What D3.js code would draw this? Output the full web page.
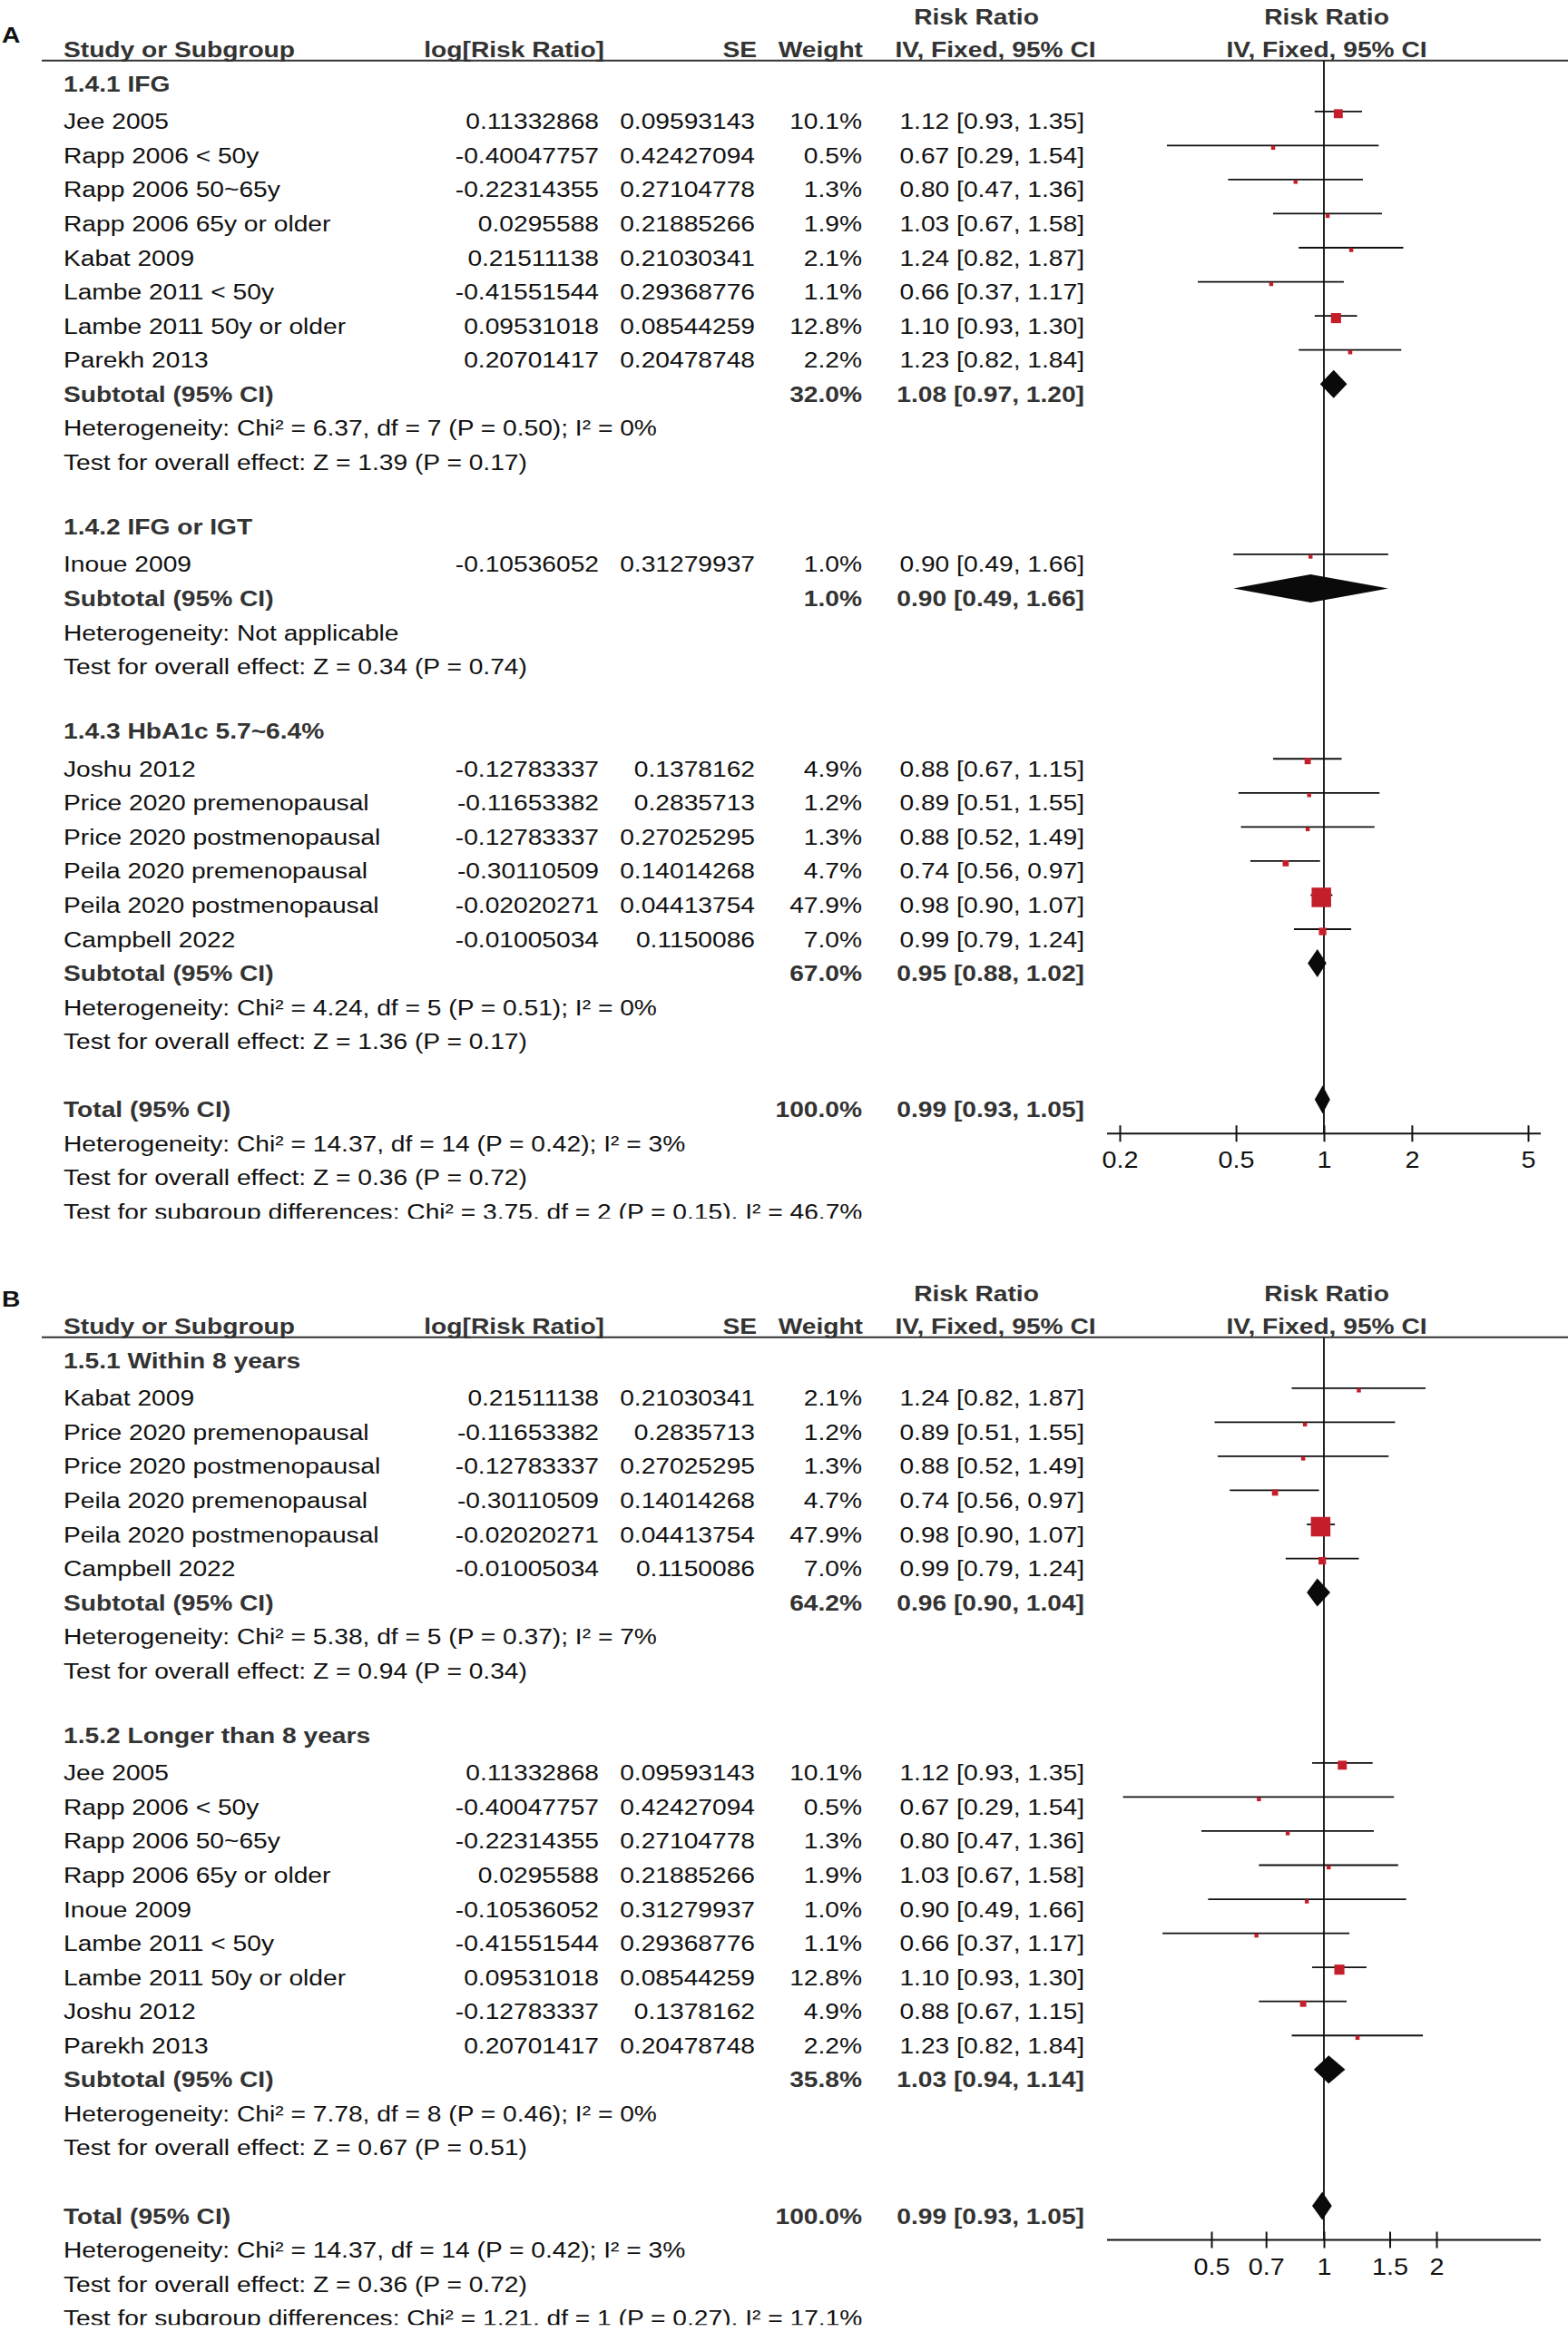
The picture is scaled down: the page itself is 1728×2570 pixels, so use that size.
<!DOCTYPE html>
<html>
<head>
<meta charset="utf-8">
<script src="https://cdn.jsdelivr.net/npm/d3@7"></script>
<style>
    body { margin: 0; background: #fff; }
    svg { display: block; font-family: "Liberation Sans", Arial, sans-serif; }
</style>
</head>
<body>
<div id="chart"></div>
<script>
// Study level values (the same 15 studies are used in both panels)
var studyNames = ["Jee 2005", "Rapp 2006 < 50y", "Rapp 2006 50~65y", "Rapp 2006 65y or older",
    "Kabat 2009", "Lambe 2011 < 50y", "Lambe 2011 50y or older", "Parekh 2013", "Inoue 2009",
    "Joshu 2012", "Price 2020 premenopausal", "Price 2020 postmenopausal",
    "Peila 2020 premenopausal", "Peila 2020 postmenopausal", "Campbell 2022"];
var logRR = ["0.11332868", "-0.40047757", "-0.22314355", "0.0295588", "0.21511138", "-0.41551544",
    "0.09531018", "0.20701417", "-0.10536052", "-0.12783337", "-0.11653382", "-0.12783337",
    "-0.30110509", "-0.02020271", "-0.01005034"];
var seVals = ["0.09593143", "0.42427094", "0.27104778", "0.21885266", "0.21030341", "0.29368776",
    "0.08544259", "0.20478748", "0.31279937", "0.1378162", "0.2835713", "0.27025295",
    "0.14014268", "0.04413754", "0.1150086"];
var weights = [10.1, 0.5, 1.3, 1.9, 2.1, 1.1, 12.8, 2.2, 1.0, 4.9, 1.2, 1.3, 4.7, 47.9, 7.0];
var rrVals = [1.12, 0.67, 0.80, 1.03, 1.24, 0.66, 1.10, 1.23, 0.90, 0.88, 0.89, 0.88, 0.74, 0.98, 0.99];
var ciLow  = [0.93, 0.29, 0.47, 0.67, 0.82, 0.37, 0.93, 0.82, 0.49, 0.67, 0.51, 0.52, 0.56, 0.90, 0.79];
var ciHigh = [1.35, 1.54, 1.36, 1.58, 1.87, 1.17, 1.30, 1.84, 1.66, 1.15, 1.55, 1.49, 0.97, 1.07, 1.24];

// Panel A subgroups
var groupTitlesA = ["1.4.1 IFG", "1.4.2 IFG or IGT", "1.4.3 HbA1c 5.7~6.4%"];
var groupStudiesA = [[0, 1, 2, 3, 4, 5, 6, 7], [8], [9, 10, 11, 12, 13, 14]];
var subWeightA = [32.0, 1.0, 67.0];
var subRRA = [1.08, 0.90, 0.95];
var subLowA = [0.97, 0.49, 0.88];
var subHighA = [1.20, 1.66, 1.02];
var hetA = ["Heterogeneity: Chi² = 6.37, df = 7 (P = 0.50); I² = 0%",
    "Heterogeneity: Not applicable",
    "Heterogeneity: Chi² = 4.24, df = 5 (P = 0.51); I² = 0%"];
var effectA = ["Test for overall effect: Z = 1.39 (P = 0.17)",
    "Test for overall effect: Z = 0.34 (P = 0.74)",
    "Test for overall effect: Z = 1.36 (P = 0.17)"];
var diffA = "Test for subgroup differences: Chi² = 3.75, df = 2 (P = 0.15), I² = 46.7%";
var ticksA = [0.2, 0.5, 1, 2, 5];

// Panel B subgroups
var groupTitlesB = ["1.5.1 Within 8 years", "1.5.2 Longer than 8 years"];
var groupStudiesB = [[4, 10, 11, 12, 13, 14], [0, 1, 2, 3, 8, 5, 6, 9, 7]];
var subWeightB = [64.2, 35.8];
var subRRB = [0.96, 1.03];
var subLowB = [0.90, 0.94];
var subHighB = [1.04, 1.14];
var hetB = ["Heterogeneity: Chi² = 5.38, df = 5 (P = 0.37); I² = 7%",
    "Heterogeneity: Chi² = 7.78, df = 8 (P = 0.46); I² = 0%"];
var effectB = ["Test for overall effect: Z = 0.94 (P = 0.34)",
    "Test for overall effect: Z = 0.67 (P = 0.51)"];
var diffB = "Test for subgroup differences: Chi² = 1.21, df = 1 (P = 0.27), I² = 17.1%";
var ticksB = [0.5, 0.7, 1, 1.5, 2];

// Overall
var totalWeight = 100.0;
var totalRR = 0.99, totalLow = 0.93, totalHigh = 1.05;
var totalHet = "Heterogeneity: Chi² = 14.37, df = 14 (P = 0.42); I² = 3%";
var totalEffect = "Test for overall effect: Z = 0.36 (P = 0.72)";

var svgWidth = 1728;
var svgHeight = 2570;
var sx = 1.15;        // the picture is stretched a bit horizontally
var fontSize = 24.5;
var rowStep = 37.55;
var col = { label: 70, logRR: 660, se: 832, weight: 950, ci: 1195 };

var svg = d3.select("#chart")
    .append("svg")
    .attr("width", svgWidth)
    .attr("height", svgHeight);

svg.append("rect").attr("width", svgWidth).attr("height", svgHeight).attr("fill", "#fff");

var sizeScale = d3.scaleSqrt().domain([0, d3.max(weights)]).range([0, 21.5]);

function addText(g, x, y, str, anchor, bold, color) {
    return g.append("text")
        .attr("transform", `translate(${x},${y}) scale(${sx},1)`)
        .attr("text-anchor", anchor || "start")
        .attr("font-size", fontSize)
        .attr("font-weight", bold ? "bold" : "normal")
        .attr("fill", color || (bold ? "#333" : "#111"))
        .text(str);
}

function ciText(rr, lo, hi) {
    return rr.toFixed(2) + " [" + lo.toFixed(2) + ", " + hi.toFixed(2) + "]";
}

function drawPanel(p) {
    var top = p.top;
    var x = d3.scaleLog().domain(p.domain).range(p.range);

    // build the row list
    var rows = [];
    p.titles.forEach(function(t, gi) {
        rows.push({ type: "title", text: t });
        p.studies[gi].forEach(function(si) { rows.push({ type: "study", s: si }); });
        rows.push({ type: "sub", gi: gi });
        rows.push({ type: "note", text: p.het[gi] });
        rows.push({ type: "note", text: p.effect[gi] });
        rows.push({ type: "blank" });
    });
    rows.push({ type: "total" });
    rows.push({ type: "note", text: totalHet });
    rows.push({ type: "note", text: totalEffect });
    rows.push({ type: "note", text: p.diff });

    var baseY = function(i) { return top + 142.3 + (i - 1) * rowStep; };
    var lastY = baseY(rows.length - 1);
    var totalIdx = rows.findIndex(function(r) { return r.type === "total"; });
    var axisY = baseY(totalIdx) + 18;

    // the figure is cropped through the last line
    var clipId = "clip" + p.letter;
    svg.append("clipPath").attr("id", clipId)
        .append("rect")
        .attr("x", 0).attr("y", top)
        .attr("width", svgWidth).attr("height", lastY - 1 - top);
    var g = svg.append("g").attr("clip-path", `url(#${clipId})`);

    // headers
    addText(g, 2, top + p.letterY, p.letter, "start", true, "#111");
    addText(g, 1076, top + 26.7, "Risk Ratio", "middle", true);
    addText(g, 1462, top + 26.7, "Risk Ratio", "middle", true);
    addText(g, col.label, top + 62.5, "Study or Subgroup", "start", true);
    addText(g, 666, top + 62.5, "log[Risk Ratio]", "end", true);
    addText(g, 834, top + 62.5, "SE", "end", true);
    addText(g, 951, top + 62.5, "Weight", "end", true);
    addText(g, 1097, top + 62.5, "IV, Fixed, 95% CI", "middle", true);
    addText(g, 1462, top + 62.5, "IV, Fixed, 95% CI", "middle", true);
    g.append("line")
        .attr("x1", 46).attr("x2", svgWidth)
        .attr("y1", top + 66.7).attr("y2", top + 66.7)
        .attr("stroke", "#333").attr("stroke-width", 2);

    // line of no effect
    g.append("line")
        .attr("x1", x(1)).attr("x2", x(1))
        .attr("y1", top + 66.7).attr("y2", axisY)
        .attr("stroke", "#222").attr("stroke-width", 2);

    rows.forEach(function(r, i) {
        var y = baseY(i);
        var my = y - 19.5;
        if (r.type === "title") {
            addText(g, col.label, y - 4, r.text, "start", true);
        }
        else if (r.type === "study") {
            var s = r.s;
            addText(g, col.label, y, studyNames[s]);
            addText(g, col.logRR, y, logRR[s], "end");
            addText(g, col.se, y, seVals[s], "end");
            addText(g, col.weight, y, weights[s].toFixed(1) + "%", "end");
            addText(g, col.ci, y, ciText(rrVals[s], ciLow[s], ciHigh[s]), "end");
            g.append("line")
                .attr("x1", x(ciLow[s])).attr("x2", x(ciHigh[s]))
                .attr("y1", my).attr("y2", my)
                .attr("stroke", "#111").attr("stroke-width", 1.8);
            var sz = Math.max(4.4, sizeScale(weights[s]));
            g.append("rect")
                .attr("x", x(rrVals[s]) - sz / 2)
                .attr("y", my + 2.5 - sz / 2)
                .attr("width", sz).attr("height", sz)
                .attr("fill", "#c41e2a");
        }
        else if (r.type === "sub" || r.type === "total") {
            var isSub = r.type === "sub";
            var w = isSub ? p.subWeight[r.gi] : totalWeight;
            var rr = isSub ? p.subRR[r.gi] : totalRR;
            var lo = isSub ? p.subLow[r.gi] : totalLow;
            var hi = isSub ? p.subHigh[r.gi] : totalHigh;
            addText(g, col.label, y, isSub ? "Subtotal (95% CI)" : "Total (95% CI)", "start", true);
            addText(g, col.weight, y, w.toFixed(1) + "%", "end", true);
            addText(g, col.ci, y, ciText(rr, lo, hi), "end", true);
            var pts = [[x(lo), my], [x(rr), my - 15.5], [x(hi), my], [x(rr), my + 15.5]];
            g.append("path")
                .attr("d", d3.line()(pts) + "Z")
                .attr("fill", "#0a0a0a");
        }
        else if (r.type === "note") {
            addText(g, col.label, y, r.text);
        }
    });

    // x axis
    g.append("line")
        .attr("x1", 1220).attr("x2", 1698)
        .attr("y1", axisY).attr("y2", axisY)
        .attr("stroke", "#111").attr("stroke-width", 2);
    var bottomAxis = d3.axisBottom(x)
        .tickValues(p.ticks)
        .tickFormat(d3.format(""))
        .tickSize(9);
    var ax = g.append("g")
        .attr("transform", `translate(0,${axisY})`)
        .call(bottomAxis);
    ax.attr("font-size", null).attr("font-family", null);
    ax.select(".domain").remove();
    ax.selectAll(".tick line")
        .attr("y1", -9).attr("y2", 9)
        .attr("stroke", "#111").attr("stroke-width", 2);
    ax.selectAll(".tick text")
        .attr("y", 0).attr("dy", 0)
        .attr("transform", `translate(0,38) scale(${sx},1)`)
        .attr("font-size", 25)
        .attr("fill", "#111");
}

drawPanel({
    letter: "A", letterY: 47, top: 0,
    domain: [0.2, 5], range: [1234, 1684], ticks: ticksA,
    titles: groupTitlesA, studies: groupStudiesA,
    subWeight: subWeightA, subRR: subRRA, subLow: subLowA, subHigh: subHighA,
    het: hetA, effect: effectA, diff: diffA
});

drawPanel({
    letter: "B", letterY: 33, top: 1407,
    domain: [0.5, 2], range: [1335, 1583], ticks: ticksB,
    titles: groupTitlesB, studies: groupStudiesB,
    subWeight: subWeightB, subRR: subRRB, subLow: subLowB, subHigh: subHighB,
    het: hetB, effect: effectB, diff: diffB
});
</script>
</body>
</html>
